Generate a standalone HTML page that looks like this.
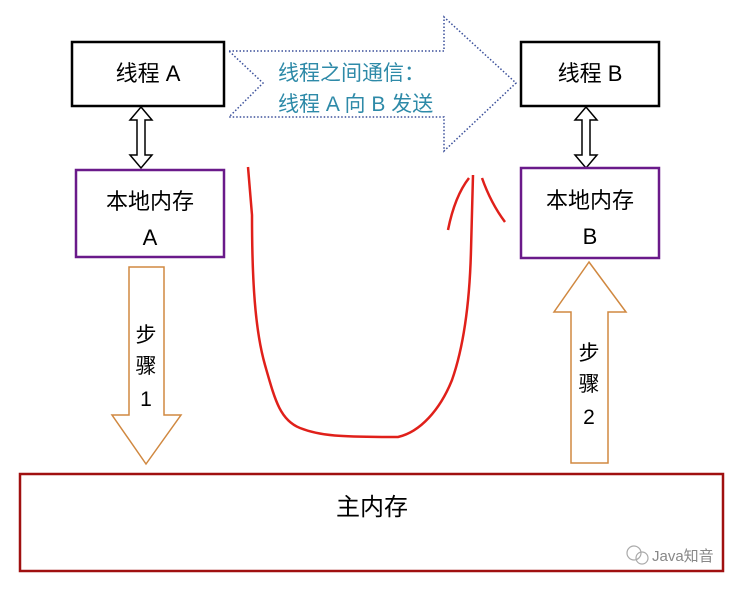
<!DOCTYPE html>
<html><head><meta charset="utf-8"><style>
html,body{margin:0;padding:0;background:#fff;}
body{width:752px;height:589px;overflow:hidden;}
svg text{font-family:"Liberation Sans","Noto Sans CJK SC",sans-serif;}
</style></head><body>
<svg width="752" height="589" viewBox="0 0 752 589" xmlns="http://www.w3.org/2000/svg">
<polygon points="229,51 444,51 444,17 516,83 444,151 444,117 229,117 263,83" fill="#fff" stroke="#3a4f9a" stroke-width="1.5" stroke-dasharray="1.5,2"/>
<text x="278" y="80" font-size="21" fill="#2e8aa8">线程之间通信：</text>
<text x="278" y="111" font-size="21" fill="#2e8aa8">线程 A 向 B 发送</text>
<rect x="72" y="42" width="152" height="64" fill="#fff" stroke="#000" stroke-width="2.5"/>
<text x="148" y="81" font-size="22" text-anchor="middle">线程 A</text>
<rect x="521" y="42" width="138" height="64" fill="#fff" stroke="#000" stroke-width="2.5"/>
<text x="590" y="81" font-size="22" text-anchor="middle">线程 B</text>
<polygon points="141,107 152,120 145,120 145,155 152,155 141,168 130,155 137,155 137,120 130,120" fill="#fff" stroke="#000" stroke-width="1.5"/>
<polygon points="586,107 597,120 590,120 590,155 597,155 586,168 575,155 582,155 582,120 575,120" fill="#fff" stroke="#000" stroke-width="1.5"/>
<rect x="76" y="170" width="148" height="87" fill="#fff" stroke="#6a1a8a" stroke-width="2.5"/>
<text x="150" y="209" font-size="22" text-anchor="middle">本地内存</text>
<text x="150" y="245" font-size="22" text-anchor="middle">A</text>
<rect x="521" y="168" width="138" height="90" fill="#fff" stroke="#6a1a8a" stroke-width="2.5"/>
<text x="590" y="208" font-size="22" text-anchor="middle">本地内存</text>
<text x="590" y="244" font-size="22" text-anchor="middle">B</text>
<polygon points="129,267 164,267 164,415 181,415 146,464 112,415 129,415" fill="#fff" stroke="#d08840" stroke-width="1.5"/>
<text x="146" y="342" font-size="21" text-anchor="middle">步</text>
<text x="146" y="373" font-size="21" text-anchor="middle">骤</text>
<text x="146" y="406" font-size="21" text-anchor="middle">1</text>
<polygon points="589,262 626,312 608,312 608,463 571,463 571,312 554,312" fill="#fff" stroke="#d08840" stroke-width="1.5"/>
<text x="589" y="360" font-size="21" text-anchor="middle">步</text>
<text x="589" y="391" font-size="21" text-anchor="middle">骤</text>
<text x="589" y="424" font-size="21" text-anchor="middle">2</text>
<path d="M248,167 L252,215 C252,280 255,330 265,365 C275,400 280,420 300,428 C320,436 340,437 398,437 C420,432 440,410 452,380 C466,340 470,290 471,250 L473,175" fill="none" stroke="#e0201a" stroke-width="2.5"/>
<path d="M448,230 C452,210 458,192 469,178 M482,178 C488,195 496,210 505,222" fill="none" stroke="#e0201a" stroke-width="2.5"/>
<rect x="20" y="474" width="703" height="97" fill="#fff" stroke="#a01010" stroke-width="2.5"/>
<text x="372" y="515" font-size="24" text-anchor="middle">主内存</text>
<text x="652" y="561" font-size="15" fill="#888">Java知音</text>
<circle cx="634" cy="553" r="7" fill="none" stroke="#aaa" stroke-width="1.2"/>
<circle cx="642" cy="558" r="6" fill="none" stroke="#aaa" stroke-width="1.2"/>
</svg>
</body></html>
